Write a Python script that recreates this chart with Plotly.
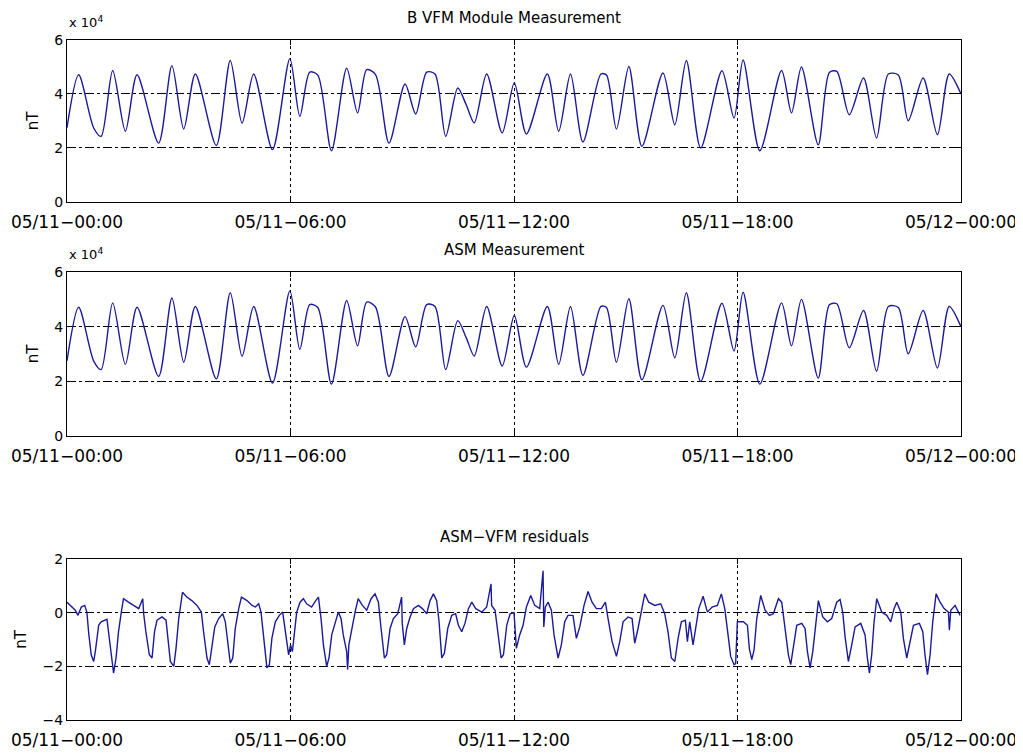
import pandas as pd
import plotly.graph_objects as go
from plotly.subplots import make_subplots

# Time axis ticks (one day, every 6 hours)
tick_times = ["2014-05-11 00:00", "2014-05-11 06:00", "2014-05-11 12:00",
              "2014-05-11 18:00", "2014-05-12 00:00"]
tick_text = ["05/11\u221200:00", "05/11\u221206:00", "05/11\u221212:00",
             "05/11\u221218:00", "05/12\u221200:00"]

# B VFM module: minutes after 05/11 00:00 and field in nT
vfm_minutes = [0, 18.8, 43, 55, 73.6, 94, 112.8, 147.6, 169, 188, 206.7, 240.5,
               263, 282, 300.7, 331, 359, 375, 391, 404, 426, 450.5, 468, 482.7,
               497, 518.7, 544.5, 561.7, 579.4, 592.8, 610, 629.4, 643, 656, 676,
               701, 720.5, 740, 773.7, 792, 811, 831, 860, 869, 885, 905, 926, 960,
               979, 997.6, 1020.7, 1055, 1074.4, 1089, 1116, 1151, 1167, 1183, 1210,
               1228, 1240, 1260, 1283, 1304, 1323, 1339, 1355, 1379, 1402, 1421, 1440]
vfm_nt = [27500, 47100, 27400, 24300, 48700, 26200, 47100, 21800, 50500, 27000,
          47400, 20900, 52400, 29200, 47400, 19400, 53100, 31700, 48100, 47000,
          19000, 49600, 33000, 49000, 47200, 21800, 43700, 32600, 48100, 47400,
          24300, 42200, 36000, 29300, 47400, 25600, 44100, 25200, 47400, 26200,
          47400, 22200, 47400, 47000, 27000, 50200, 20600, 47800, 28600, 52400,
          20000, 48600, 31100, 52600, 19000, 48700, 33000, 50000, 21200, 48000,
          48400, 32300, 45900, 23700, 47400, 47000, 30100, 45900, 24900, 47400, 40000]

# ASM measurement: identical to VFM at this scale
asm_minutes = vfm_minutes
asm_nt = vfm_nt

# ASM - VFM residuals in nT
res_minutes = [0, 5.4, 13.4, 17.7, 23, 28.5, 32, 35, 39, 43, 45.6, 51, 55, 64.4, 67,
               71.4, 75, 79, 83, 87.5, 91, 99, 107, 115.5, 122, 123.5, 127, 132.6,
               137, 141, 145, 153, 159.5, 162.7, 166.5, 172, 175.6, 180, 186, 193,
               201, 209.4, 216.4, 220, 225.5, 229.3, 233.6, 238, 244.3, 250.8, 255,
               259.4, 263, 267, 271, 276.6, 281, 290, 298, 303.4, 308.8, 312.5, 317,
               322, 326, 330, 335.6, 342, 347.4, 351.7, 357, 360, 363, 366, 370,
               375.4, 380.7, 386, 394, 400.6, 405, 409.2, 413, 418.3, 422, 426.4,
               431.8, 437, 441.4, 445, 450.5, 452, 454, 458.6, 464, 469, 475.8,
               482.8, 489.8, 496.2, 501.6, 505.9, 511.2, 515, 520.4, 525.7, 532.7,
               539, 540, 543.4, 547.2, 552.6, 558, 566, 572.4, 579.4, 584.8, 590.2,
               595.5, 599.3, 603.6, 607.9, 613.3, 619.7, 626, 630.4, 635.8, 641,
               646.6, 652, 658.4, 668, 676, 683, 684, 689.5, 694.9, 699.2, 703,
               708.3, 713.7, 720, 723.8, 729.2, 734.6, 740, 747, 753.4, 761.4, 766.8,
               768, 770.5, 775, 780.2, 784.5, 791, 796.3, 801.7, 807, 815, 820.5,
               825.9, 832.8, 839.3, 845.7, 852.7, 860.8, 867.2, 871.5, 878, 885,
               890.3, 895.7, 903.7, 910.2, 914.5, 919.8, 925.2, 930.6, 937, 946.7,
               956.3, 962.8, 968, 973.5, 979, 984.3, 989.6, 996, 999.3, 1003, 1008.4,
               1012.2, 1017.6, 1024.6, 1031.5, 1039, 1047.6, 1054, 1059.5, 1064.8,
               1069, 1074.5, 1077, 1079.8, 1089.5, 1096, 1099, 1103, 1106.7, 1111,
               1117.4, 1124.4, 1131.4, 1137.8, 1145.9, 1151.2, 1156.6, 1162, 1165.7,
               1170, 1175.4, 1183.5, 1188.8, 1192.6, 1196.9, 1201.2, 1206.5, 1210.3,
               1217.3, 1224.8, 1231.8, 1239.8, 1245.2, 1249.5, 1253.3, 1258.6, 1264,
               1269.4, 1278.5, 1285.5, 1289.2, 1292.5, 1296.2, 1300, 1304.3, 1312.3,
               1320.4, 1326.8, 1332.2, 1336.5, 1343, 1347.2, 1352.6, 1358, 1363.4,
               1373, 1378.4, 1382, 1386, 1390.2, 1394.5, 1399.9, 1406.3, 1412.8,
               1419.7, 1421.3, 1423.5, 1430.5, 1438.5]
res_nt = [0.39, 0.27, 0.09, -0.10, 0.21, 0.27, 0.02, -0.77, -1.57, -1.82, -1.45,
          -0.47, -0.34, -0.25, -0.71, -1.69, -2.25, -1.69, -0.71, 0.02, 0.52, 0.39,
          0.27, 0.15, 0.52, -0.04, -0.71, -1.57, -1.69, -0.71, -0.28, -0.16, -0.28,
          -0.96, -1.82, -2.00, -1.33, -0.22, 0.76, 0.58, 0.45, 0.27, 0.02, -0.71,
          -1.69, -1.94, -1.20, -0.53, -0.22, -0.04, -0.34, -1.20, -1.88, -1.69,
          -0.59, 0.15, 0.58, 0.45, 0.27, 0.21, 0.33, 0.02, -1.08, -2.06, -1.94,
          -0.96, -0.34, -0.10, 0.02, -0.71, -1.57, -1.20, -1.45, -0.83, 0.02, 0.39,
          0.52, 0.33, 0.21, 0.45, 0.58, -0.22, -1.20, -2.00, -1.69, -0.83, -0.34,
          0.02, -0.22, -0.83, -1.45, -2.12, -1.20, -0.59, 0.02, 0.52, 0.27, 0.09,
          0.52, 0.70, 0.39, -0.59, -1.69, -1.57, -0.59, -0.22, -0.04, 0.58, -0.40,
          -1.20, -0.59, -0.16, 0.15, 0.27, 0.15, -0.04, 0.45, 0.70, 0.45, -0.34,
          -1.69, -1.51, -0.59, -0.10, -0.04, -0.47, -0.71, -0.40, 0.15, 0.39, 0.15,
          0.02, 0.21, 1.07, 0.27, 0.09, -0.96, -1.69, -1.57, -0.47, -0.04, 0.00,
          -1.33, -0.83, -0.47, 0.21, 0.64, 0.27, 0.15, 1.56, -0.53, 0.21, 0.39,
          0.09, -0.83, -1.69, -1.20, -0.34, -0.10, -0.10, -0.96, -0.53, 0.27, 0.79,
          0.39, 0.15, 0.15, 0.39, -0.22, -1.08, -1.63, -1.08, -0.34, -0.16, -0.22,
          -1.14, -0.59, 0.02, 0.70, 0.39, 0.27, 0.33, -0.04, -0.71, -1.69, -1.82,
          -0.96, -0.34, -0.28, -1.08, -0.34, -1.20, -0.59, 0.15, 0.61, 0.02, 0.21,
          0.27, 0.70, 0.15, -0.83, -1.63, -1.94, -1.90, -0.34, -0.34, -0.47, -1.33,
          -1.75, -1.39, -0.22, 0.64, 0.09, -0.10, -0.04, 0.52, 0.39, -0.59, -1.57,
          -1.94, -1.20, -0.47, -0.40, -0.59, -1.45, -2.06, -1.45, -0.47, 0.45,
          -0.16, -0.34, -0.22, 0.39, 0.49, 0.02, -0.90, -1.82, -1.20, -0.53, -0.40,
          -0.83, -1.69, -2.25, -1.57, -0.34, 0.52, 0.02, -0.10, -0.34, 0.15, 0.39,
          0.02, -0.96, -1.69, -1.08, -0.47, -0.40, -0.71, -1.57, -2.31, -1.57,
          -0.34, 0.70, 0.39, 0.15, 0.02, -0.65, 0.09, 0.27, -0.10]

panel_titles = ["B VFM Module Measurement", "ASM Measurement", "ASM\u2212VFM residuals"]


def to_time(minutes):
    return pd.Timestamp("2014-05-11") + pd.to_timedelta(minutes, unit="min")


LINE = "#1a1a9a"
FONT = "DejaVu Sans"

fig = make_subplots(rows=3, cols=1)

fig.add_trace(go.Scatter(x=to_time(vfm_minutes), y=vfm_nt, mode="lines",
                         line=dict(color=LINE, width=1.4, shape="spline", smoothing=0.8)),
              row=1, col=1)
fig.add_trace(go.Scatter(x=to_time(asm_minutes), y=asm_nt, mode="lines",
                         line=dict(color=LINE, width=1.4, shape="spline", smoothing=0.8)),
              row=2, col=1)
fig.add_trace(go.Scatter(x=to_time(res_minutes), y=res_nt, mode="lines",
                         line=dict(color=LINE, width=1.4)),
              row=3, col=1)

# Panel placement, matching the MATLAB subplot boxes
domains = [[0.7618, 1.0], [0.4176, 0.6588], [0.0, 0.2368]]

axis_style = dict(
    showline=True, linecolor="black", linewidth=1, mirror="ticks",
    ticks="inside", ticklen=5, tickcolor="black",
    showgrid=True, gridcolor="black", gridwidth=1,
    zeroline=False, automargin=False,
)

for i in range(3):
    fig.update_xaxes(
        axis_style, row=i + 1, col=1,
        range=[tick_times[0], tick_times[-1]],
        tickvals=tick_times, ticktext=tick_text,
        griddash="dot", ticklabelstandoff=5,
        tickfont=dict(family=FONT, size=17, color="black"),
    )
    fig.update_yaxes(axis_style, row=i + 1, col=1, domain=domains[i],
                     griddash="dashdot",
                     tickfont=dict(family=FONT, size=14, color="black"),
                     title=dict(text="nT", standoff=12,
                                font=dict(family=FONT, size=15, color="black")))

for r in (1, 2):
    fig.update_yaxes(row=r, col=1, range=[0, 60000],
                     tickvals=[0, 20000, 40000, 60000], ticktext=["0", "2", "4", "6"])
fig.update_yaxes(row=3, col=1, range=[-4, 2], tickvals=[-4, -2, 0, 2])

# Panel titles and exponent labels
for i, title in enumerate(panel_titles):
    fig.add_annotation(text=title, xref="paper", yref="paper", x=0.5,
                       y=domains[i][1], yanchor="bottom", yshift=11, showarrow=False,
                       font=dict(family=FONT, size=15, color="black"))
for i in (0, 1):
    fig.add_annotation(text="x 10<sup>4</sup>", xref="paper", yref="paper", x=0.0,
                       y=domains[i][1], xanchor="left", yanchor="bottom", yshift=8,
                       showarrow=False, font=dict(family=FONT, size=13, color="black"))

# The page body adds an 8 px offset, so the figure is 8 px smaller on each side
fig.update_layout(
    width=1015, height=745,
    margin=dict(l=59, r=62, t=32, b=33),
    paper_bgcolor="white", plot_bgcolor="white",
    showlegend=False,
)

fig.write_html("out.html")
